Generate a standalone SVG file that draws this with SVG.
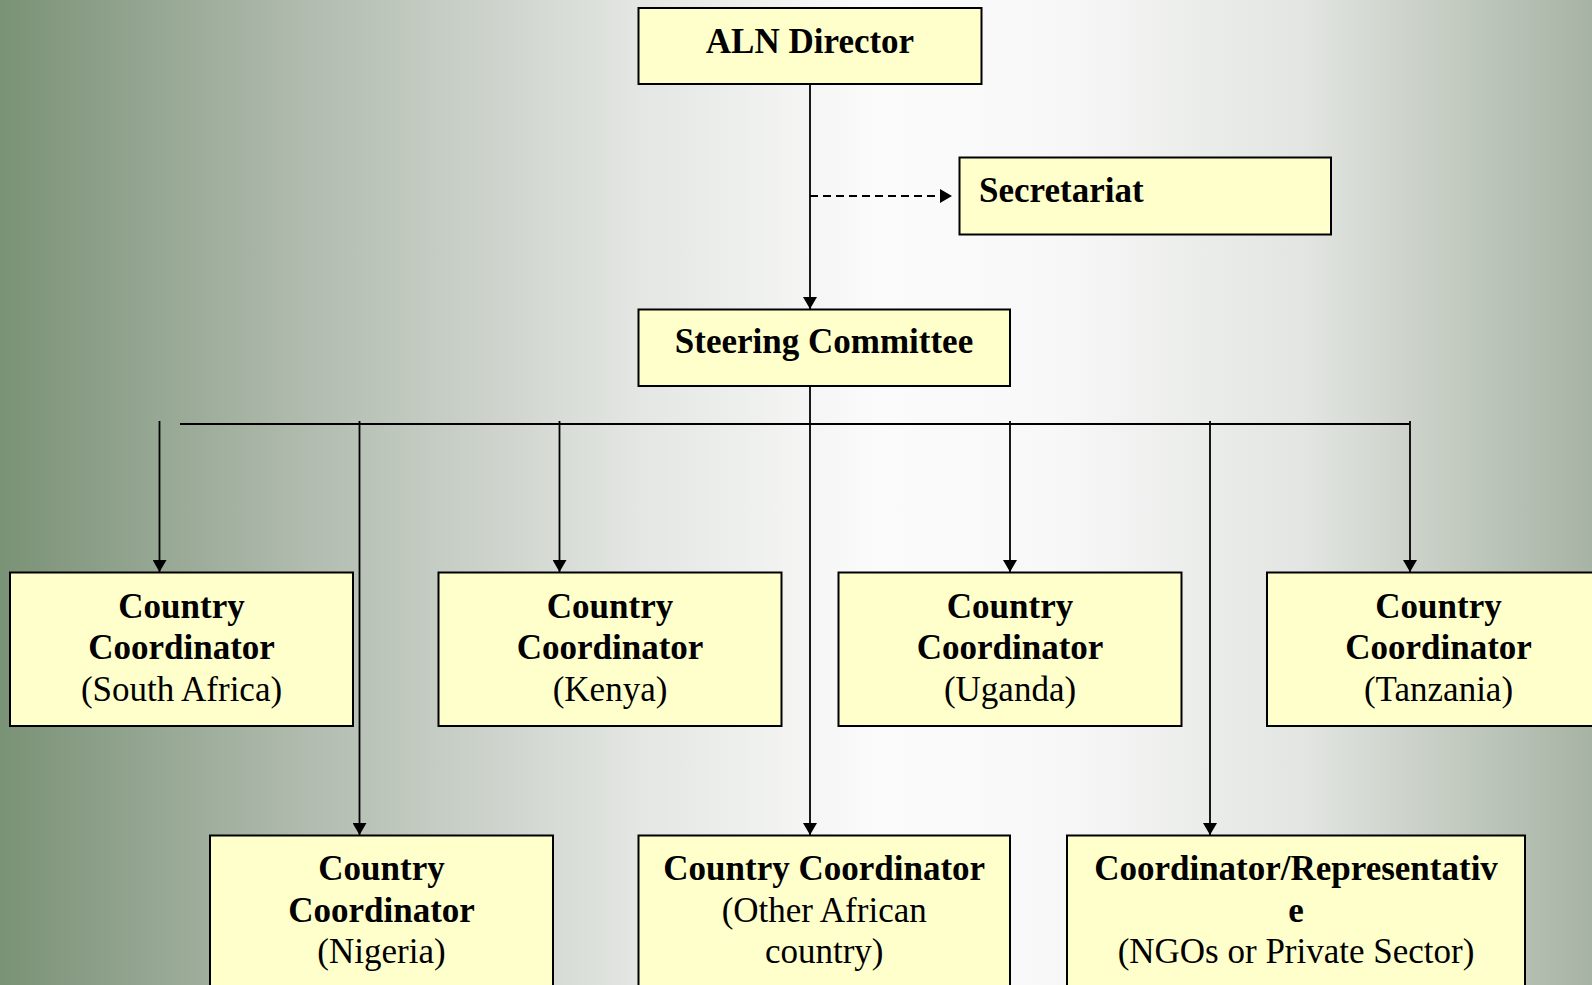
<svg xmlns="http://www.w3.org/2000/svg" width="1592" height="985" viewBox="0 0 1592 985">
<defs>
<linearGradient id="bg" x1="0" y1="0" x2="1" y2="0">
<stop offset="0" stop-color="#7a9276"/>
<stop offset="0.2" stop-color="#b3bdb1"/>
<stop offset="0.4" stop-color="#e3e6e2"/>
<stop offset="0.55" stop-color="#fbfbfb"/>
<stop offset="0.66" stop-color="#f8f8f8"/>
<stop offset="0.82" stop-color="#e2e5e1"/>
<stop offset="1" stop-color="#a7b3a4"/>
</linearGradient>
<marker id="arr" viewBox="0 0 12 14" refX="12" refY="7" markerWidth="12" markerHeight="14" orient="auto" markerUnits="userSpaceOnUse">
<path d="M0,0 L12,7 L0,14 z" fill="#000"/>
</marker>
</defs>
<style>
.box{fill:#ffffcc;stroke:#000;stroke-width:2}
.b{font-family:"Liberation Serif","Times New Roman",serif;font-weight:bold;font-size:35px;fill:#000}
.r{font-family:"Liberation Serif","Times New Roman",serif;font-size:35px;fill:#000}
.c{text-anchor:middle}
.ln{stroke:#000;stroke-width:1.8;fill:none}
.arw{marker-end:url(#arr)}
.dash{stroke-dasharray:8 5}
</style>
<rect x="0" y="0" width="1592" height="985" fill="url(#bg)"/>

<g id="connectors">
<line class="ln arw" x1="810" y1="84" x2="810" y2="309"/>
<line class="ln arw dash" x1="810" y1="196" x2="952" y2="196"/>
<line class="ln" x1="180" y1="424" x2="1410" y2="424"/>
<line class="ln arw" x1="810" y1="386" x2="810" y2="835"/>
<line class="ln arw" x1="159.5" y1="421" x2="159.5" y2="572"/>
<line class="ln arw" x1="359.5" y1="421" x2="359.5" y2="835"/>
<line class="ln arw" x1="559.5" y1="421" x2="559.5" y2="572"/>
<line class="ln arw" x1="1010" y1="421" x2="1010" y2="572"/>
<line class="ln arw" x1="1210" y1="421" x2="1210" y2="835"/>
<line class="ln arw" x1="1410" y1="421" x2="1410" y2="572"/>
</g>

<g id="aln-director">
<rect class="box" x="638.5" y="8" width="343" height="76"/>
<text class="b c" x="810" y="53">ALN Director</text>
</g>

<g id="secretariat">
<rect class="box" x="959.5" y="157.5" width="371.5" height="77"/>
<text class="b" x="979" y="202">Secretariat</text>
</g>

<g id="steering-committee">
<rect class="box" x="638.5" y="309.5" width="371.5" height="76.5"/>
<text class="b c" x="824" y="353">Steering Committee</text>
</g>

<g id="cc-south-africa">
<rect class="box" x="10" y="572.5" width="343" height="153.5"/>
<text class="b c" x="181.5" y="618">Country</text>
<text class="b c" x="181.5" y="659">Coordinator</text>
<text class="r c" x="181.5" y="701">(South Africa)</text>
</g>

<g id="cc-kenya">
<rect class="box" x="438.5" y="572.5" width="343" height="153.5"/>
<text class="b c" x="610" y="618">Country</text>
<text class="b c" x="610" y="659">Coordinator</text>
<text class="r c" x="610" y="701">(Kenya)</text>
</g>

<g id="cc-uganda">
<rect class="box" x="838.5" y="572.5" width="343" height="153.5"/>
<text class="b c" x="1010" y="618">Country</text>
<text class="b c" x="1010" y="659">Coordinator</text>
<text class="r c" x="1010" y="701">(Uganda)</text>
</g>

<g id="cc-tanzania">
<rect class="box" x="1267" y="572.5" width="343" height="153.5"/>
<text class="b c" x="1438.5" y="618">Country</text>
<text class="b c" x="1438.5" y="659">Coordinator</text>
<text class="r c" x="1438.5" y="701">(Tanzania)</text>
</g>

<g id="cc-nigeria">
<rect class="box" x="210" y="835.5" width="343" height="155"/>
<text class="b c" x="381.5" y="880">Country</text>
<text class="b c" x="381.5" y="922">Coordinator</text>
<text class="r c" x="381.5" y="963">(Nigeria)</text>
</g>

<g id="cc-other-african">
<rect class="box" x="638.5" y="835.5" width="371.5" height="155"/>
<text class="b c" x="824.2" y="880">Country Coordinator</text>
<text class="r c" x="824.2" y="922">(Other African</text>
<text class="r c" x="824.2" y="963">country)</text>
</g>

<g id="coordinator-ngo">
<rect class="box" x="1067" y="835.5" width="458" height="155"/>
<text class="b c" x="1296" y="880">Coordinator/Representativ</text>
<text class="b c" x="1296" y="922">e</text>
<text class="r c" x="1296" y="963">(NGOs or Private Sector)</text>
</g>
</svg>
